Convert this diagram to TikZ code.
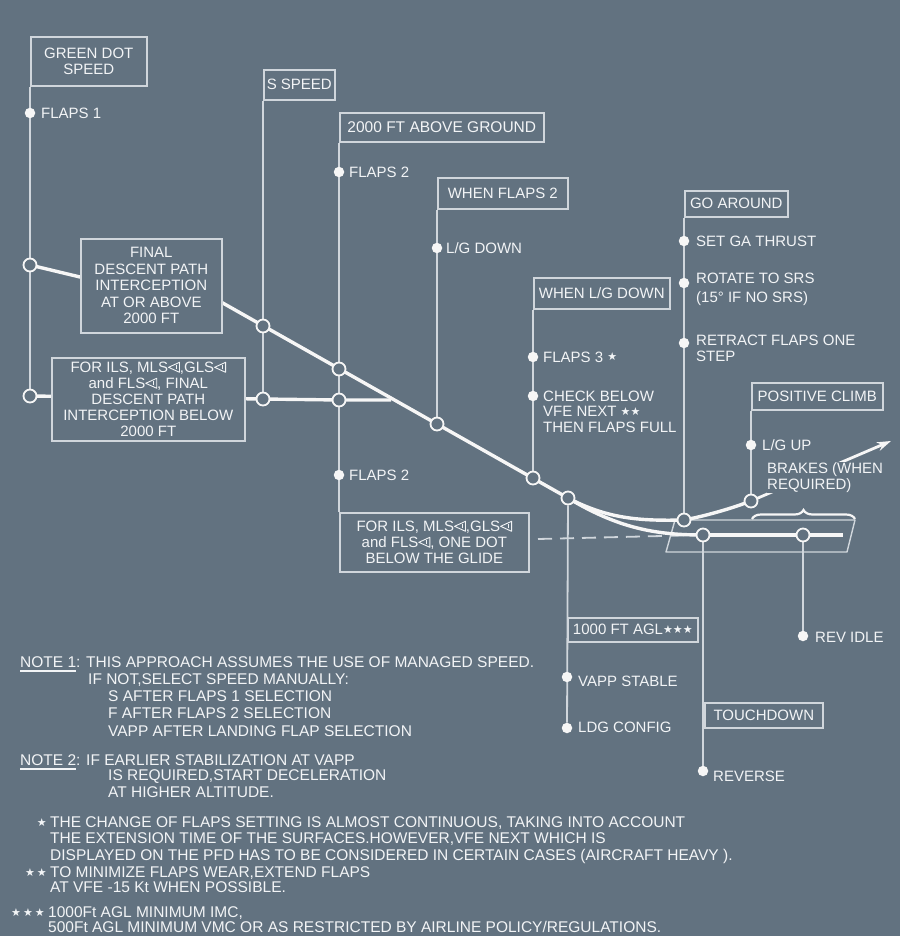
\documentclass[tikz,border=0pt]{standalone}
\usepackage{fontspec}
\setmainfont{Liberation Sans}
\newfontfamily\symfont{DejaVu Sans}
\usetikzlibrary{decorations.pathreplacing,arrows.meta}
\definecolor{bgc}{RGB}{98,114,128}
\definecolor{linec}{RGB}{208,214,220}
\definecolor{pathc}{RGB}{246,246,246}
\definecolor{txtc}{RGB}{242,244,246}
\pgfdeclarelayer{bglayer}
\pgfsetlayers{bglayer,main}
\newcommand{\tri}{\tikz[baseline=0pt,x=1pt,y=1pt]{\draw[txtc,line width=0.9pt,line join=round] (12,0.3) -- (1,5.3) -- (12,10.3) -- cycle; \draw[txtc,line width=0.9pt] (8.6,3.2) -- (8.6,7.4);}}
\newcommand{\st}{\raisebox{1.5pt}{\fontsize{11}{11}\symfont ★}}
\newcommand{\ulx}[1]{\setbox0\hbox{#1}\rlap{\rule[-4pt]{\wd0}{1.6pt}}\box0}
\begin{document}
\begin{tikzpicture}[x=1pt,y=-1pt,
  every node/.style={font=\fontsize{15}{16.5}\selectfont, text=txtc},
  box/.style={draw=linec, line width=1.6pt, fill=bgc, anchor=north west, inner sep=0pt, align=center},
  conn/.style={draw=linec, line width=1.8pt},
  gpath/.style={draw=pathc, line width=3.4pt},
  ocirc/.style={circle, draw=pathc, line width=1.8pt, fill=bgc, minimum size=13pt, inner sep=0pt},
  fdot/.style={circle, fill=pathc, minimum size=10.5pt, inner sep=0pt},
  lbl/.style={anchor=west, inner sep=0pt},
  mlbl/.style={anchor=north west, inner sep=0pt, align=left},
  nt/.style={anchor=base west, inner sep=0pt, font=\fontsize{15.5}{16.5}\selectfont},
  ns/.style={anchor=base east, inner sep=0pt}]
\useasboundingbox (0,0) rectangle (900,936);

% ---------- boxes ----------
\node[box, minimum width=116pt, minimum height=49pt] (gds) at (30,36) {GREEN DOT\\SPEED};
\node[box, minimum width=71pt, minimum height=30pt] (ssp) at (263,69) {S SPEED};
\node[box, minimum width=204pt, minimum height=29pt, font=\fontsize{15.5}{16.5}\selectfont] (a2k) at (339,112) {2000 FT ABOVE GROUND};
\node[box, minimum width=130pt, minimum height=31pt] (wf2) at (437,177) {WHEN FLAPS 2};
\node[box, minimum width=136pt, minimum height=31pt] (wlg) at (533,277) {WHEN L/G DOWN};
\node[box, minimum width=103pt, minimum height=26pt] (gar) at (684,190) {GO AROUND};
\node[box, minimum width=131pt, minimum height=27pt] (pcl) at (751,382) {POSITIVE CLIMB};
\node[box, minimum width=141pt, minimum height=94pt] (fdp) at (80,238) {FINAL\\DESCENT PATH\\INTERCEPTION\\AT OR ABOVE\\2000 FT};
\node[box, minimum width=193pt, minimum height=83pt, font=\fontsize{15}{16}\selectfont] (il1) at (51,357) {FOR ILS, MLS\tri,GLS\tri\\and FLS\tri, FINAL\\DESCENT PATH\\INTERCEPTION BELOW\\2000 FT};
\node[box, minimum width=189pt, minimum height=59pt, font=\fontsize{15}{16}\selectfont] (il2) at (339,512) {FOR ILS, MLS\tri,GLS\tri\\and FLS\tri, ONE DOT\\BELOW THE GLIDE};
\node[box, minimum width=130pt, minimum height=24pt] (a1k) at (567,617) {1000 FT AGL\st\st\st};
\node[box, minimum width=118pt, minimum height=25pt] (tdn) at (704,702) {TOUCHDOWN};

% ---------- open circles on the paths ----------
\node[ocirc] (c1) at (30,265) {};
\node[ocirc] (c2) at (30,396) {};
\node[ocirc] (c3) at (263,326) {};
\node[ocirc] (c4) at (263,399) {};
\node[ocirc] (c5) at (339,369) {};
\node[ocirc] (c6) at (339,400) {};
\node[ocirc] (c7) at (437,424) {};
\node[ocirc] (c8) at (533,478) {};
\node[ocirc] (c9) at (568,498) {};
\node[ocirc] (cga) at (684,520) {};
\node[ocirc] (clg) at (751,501) {};
\node[ocirc] (ctd) at (703,535) {};
\node[ocirc] (cri) at (803,535) {};

% ---------- filled dots ----------
\node[fdot] (d1) at (30,113) {};
\node[fdot] (d2) at (339,172) {};
\node[fdot] (d3) at (437,248) {};
\node[fdot] (d4) at (533,357) {};
\node[fdot] (d5) at (533,396) {};
\node[fdot] (d6) at (339,475) {};
\node[fdot] (d7) at (684,241) {};
\node[fdot] (d8) at (684,283) {};
\node[fdot] (d9) at (684,343) {};
\node[fdot] (d10) at (751,445) {};
\node[fdot] (d11) at (567,677) {};
\node[fdot] (d12) at (567,728) {};
\node[fdot] (d13) at (703,771) {};
\node[fdot] (d14) at (803,636) {};

% ---------- labels ----------
\node[lbl] (l1) at (41,113) {FLAPS 1};
\node[lbl] (l2) at (349,172) {FLAPS 2};
\node[lbl] (l3) at (446,248) {L/G DOWN};
\node[lbl] (l4) at (543,357) {FLAPS 3 \st};
\node[mlbl, font=\fontsize{15}{15.8}\selectfont] (l5) at (543,390.5) {CHECK BELOW\\VFE NEXT \st\st\\THEN FLAPS FULL};
\node[lbl] (l6) at (349,475) {FLAPS 2};
\node[lbl] (l7) at (696,241) {SET GA THRUST};
\node[mlbl] (l8) at (696,272.5) {ROTATE TO SRS\\[2.5pt](15° IF NO SRS)};
\node[mlbl] (l9) at (696,334.5) {RETRACT FLAPS ONE\\STEP};
\node[lbl] (l10) at (762,445) {L/G UP};
\node[lbl] (l11) at (578,681) {VAPP STABLE};
\node[lbl] (l12) at (578,727) {LDG CONFIG};
\node[lbl] (l13) at (713,776) {REVERSE};
\node[lbl] (l14) at (815,637) {REV IDLE};
\node[mlbl, fill=bgc] (l15) at (767,462) {BRAKES (WHEN\\REQUIRED)};

% ---------- notes ----------
\node[nt] (n1a) at (20,667.5) {\ulx{NOTE 1}: THIS APPROACH ASSUMES THE USE OF MANAGED SPEED.};
\node[nt] (n1b) at (88,684) {IF NOT,SELECT SPEED MANUALLY:};
\node[nt] (n1c) at (108,701) {S AFTER FLAPS 1 SELECTION};
\node[nt] (n1d) at (108,718) {F AFTER FLAPS 2 SELECTION};
\node[nt] (n1e) at (108,736) {VAPP AFTER LANDING FLAP SELECTION};
\node[nt] (n2a) at (20,765.5) {\ulx{NOTE 2}: IF EARLIER STABILIZATION AT VAPP};
\node[nt] (n2b) at (108,780.5) {IS REQUIRED,START DECELERATION};
\node[nt] (n2c) at (108,797.5) {AT HIGHER ALTITUDE.};

\node[ns] (s1) at (47,827.5) {\st};
\node[nt] (f1a) at (50,827.5) {THE CHANGE OF FLAPS SETTING IS ALMOST CONTINUOUS, TAKING INTO ACCOUNT};
\node[nt] (f1b) at (50,843.5) {THE EXTENSION TIME OF THE SURFACES.HOWEVER,VFE NEXT WHICH IS};
\node[nt] (f1c) at (50,860) {DISPLAYED ON THE PFD HAS TO BE CONSIDERED IN CERTAIN CASES (AIRCRAFT HEAVY ).};
\node[ns] (s2) at (47,877.5) {\st\hspace{2pt}\st};
\node[nt] (f2a) at (50,877.5) {TO MINIMIZE FLAPS WEAR,EXTEND FLAPS};
\node[nt] (f2b) at (50,892.5) {AT VFE -15 Kt WHEN POSSIBLE.};
\node[ns] (s3) at (45,917.5) {\st\hspace{2pt}\st\hspace{2pt}\st};
\node[nt] (f3a) at (48,917.5) {1000Ft AGL MINIMUM IMC,};
\node[nt] (f3b) at (48,932.5) {500Ft AGL MINIMUM VMC OR AS RESTRICTED BY AIRLINE POLICY/REGULATIONS.};

% ---------- coordinates ----------
\coordinate (g1) at (80,277);
\coordinate (g2) at (221,302);
\coordinate (gj) at (391,400);
\coordinate (arr) at (891,441);
\coordinate (rw1) at (675,520);
\coordinate (rw2) at (855,520);
\coordinate (rw3) at (847,552);
\coordinate (rw4) at (666,552);
\coordinate (rwc) at (843,535);
\coordinate (dsh) at (538,539);
\coordinate (br1) at (752,519);
\coordinate (br2) at (855,519);

% ---------- lines under everything ----------
\begin{pgfonlayer}{bglayer}
\fill[bgc] (0,0) rectangle (900,936);
\draw[conn] (gds.south west) -- (c2);
\draw[conn] (ssp.south west) -- (c4);
\draw[conn] (a2k.south west) -- (il2.north west);
\draw[conn] (wf2.south west) -- (c7);
\draw[conn] (wlg.south west) -- (c8);
\draw[conn] (c9) -- (d12);
\draw[conn] (gar.south west) -- (cga);
\draw[conn] (pcl.south west) -- (clg);
\draw[conn] (ctd) -- (d13);
\draw[conn] (cri) -- (d14);
\draw[draw=linec, line width=1.4pt, line join=round] (rw1) -- (rw2) -- (rw3) -- (rw4) -- cycle;
\draw[linec, line width=1.8pt, dash pattern=on 14pt off 8pt] (dsh) -- (ctd);
\draw[gpath, line join=round] (c1.center) -- (g1) -- (g2) -- (c9.center);
\draw[gpath] (c2.center) -- (c4.center) -- (c6.center) -- (gj);
\draw[gpath] (c9.center) .. controls (618,528) and (655,535) .. (ctd.center);
\draw[gpath] (c9.center) .. controls (608,519) and (640,521) .. (cga.center);
\draw[gpath] (cga.center) .. controls (705,516) and (730,509) .. (clg.center);
\draw[gpath, line width=2.8pt, -{Stealth[length=14pt,width=9pt]}] (clg.center) -- (arr);
\draw[gpath] (ctd.center) -- (rwc);
\draw[pathc, line width=2.2pt, decorate, decoration={brace, amplitude=9pt}] (br1) -- (br2);
\end{pgfonlayer}
\end{tikzpicture}
\end{document}
